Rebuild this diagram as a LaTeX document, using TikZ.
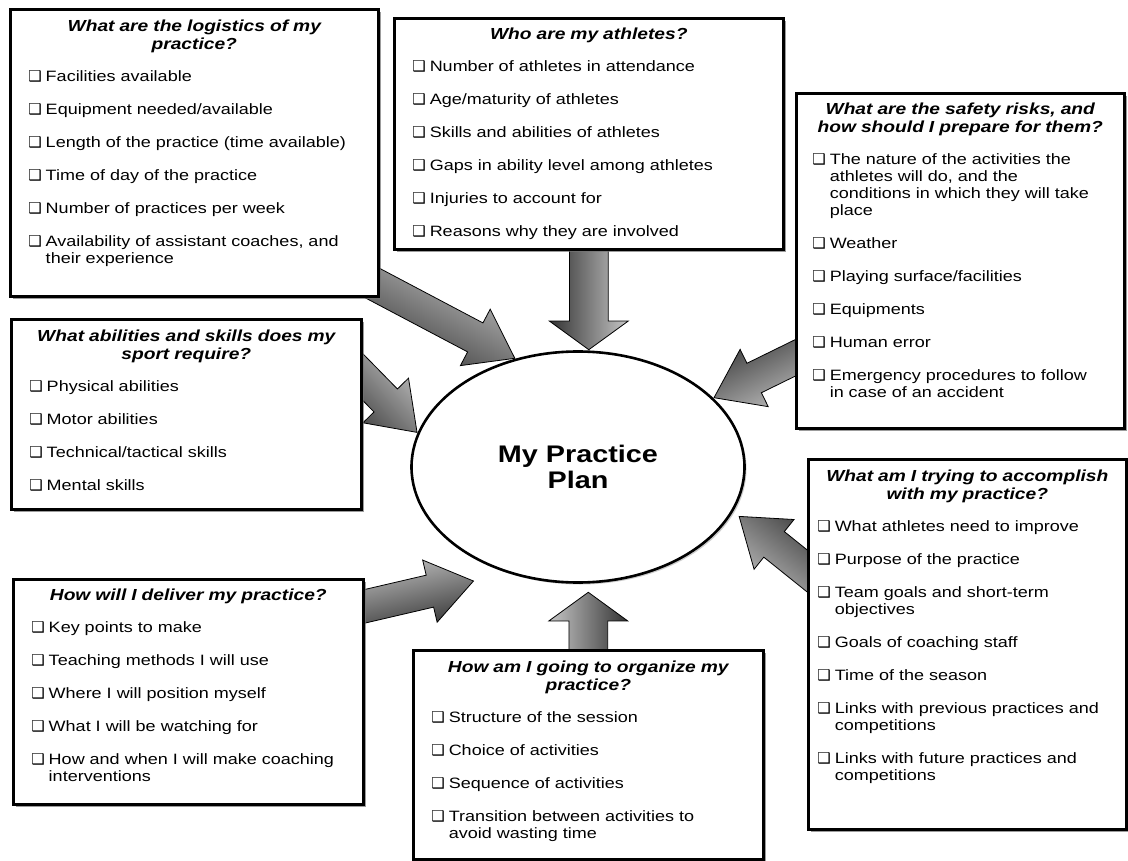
\documentclass[tikz,border=0pt]{standalone}
\usepackage{fontspec}
\setmainfont{Liberation Sans}[FakeStretch=1.2]
\newfontfamily\symfont{DejaVu Sans}
\usetikzlibrary{shapes.arrows,shapes.geometric,shadows,calc,backgrounds}

\newlength{\chkw}
\newcommand{\chk}{{\symfont\fontsize{15}{15}\selectfont ❑}\hspace{4pt}}
\newcommand{\ttl}[1]{{\centering\bfseries\itshape\fontsize{16}{18}\selectfont #1\par}\vspace{15pt}}
\newcommand{\itm}[1]{\settowidth{\chkw}{\chk}\hangindent=\chkw\hangafter=1\noindent\chk#1\par\vspace{16pt}}
\newcommand{\bigarrow}[4]{% style, name, tail, tip
  \path let \p1=($(#4)-(#3)$), \n1={veclen(\x1,\y1)}, \n2={atan2(\y1,\x1)} in
    (#4) node[#1, rotate=\n2, shading angle=\n2, anchor=tip, minimum height=\n1] (#2) {};}

\tikzset{
  card/.style={draw=black, line width=2.6pt, fill=white, anchor=north west, inner sep=0pt,
    drop shadow={shadow xshift=3pt, shadow yshift=-3pt, fill=black!55, opacity=0.7}},
  cardtext/.style={anchor=north, inner sep=0pt, font=\fontsize{15}{17}\selectfont,
    execute at begin node={\raggedright\setlength{\parskip}{0pt}}},
  fatarrow/.style={single arrow, draw=black, line width=0.8pt, left color=gray!45, right color=black!80,
    inner xsep=0pt, inner ysep=16pt, single arrow head extend=15.5pt, single arrow tip angle=71},
  widearrow/.style={fatarrow, inner ysep=19pt, single arrow head extend=20pt, single arrow tip angle=108},
}

\begin{document}
\begin{tikzpicture}[x=1pt, y=-1pt]
  \useasboundingbox (0,0) rectangle (1128,861);

  % centre
  \node[ellipse, draw, line width=2.6pt, fill=white, minimum width=333pt, minimum height=231pt,
    inner sep=0pt, align=center, font=\bfseries\fontsize{24}{26}\selectfont,
    drop shadow={shadow xshift=2pt, shadow yshift=-2pt, fill=black!40, opacity=0.5}] (plan) at (578,467) {My Practice\\Plan};

  % boxes
  \node[card, minimum width=368pt, minimum height=287pt] (log) at (9,8) {};
  \node[cardtext, text width=332pt] (logT) at ([yshift=-12pt]log.north) {%
    \ttl{What are the logistics of my\\practice?}
    \itm{Facilities available}
    \itm{Equipment needed/available}
    \itm{Length of the practice (time available)}
    \itm{Time of day of the practice}
    \itm{Number of practices per week}
    \itm{Availability of assistant coaches, and\newline their experience}};

  \node[card, minimum width=389pt, minimum height=231pt] (ath) at (393,17) {};
  \node[cardtext, text width=353pt] (athT) at ([yshift=-11pt]ath.north) {%
    \ttl{Who are my athletes?}
    \itm{Number of athletes in attendance}
    \itm{Age/maturity of athletes}
    \itm{Skills and abilities of athletes}
    \itm{Gaps in ability level among athletes}
    \itm{Injuries to account for}
    \itm{Reasons why they are involved}};

  \node[card, minimum width=328pt, minimum height=335pt] (safe) at (795,92) {};
  \node[cardtext, text width=296pt] (safeT) at ([yshift=-11pt]safe.north) {%
    \ttl{What are the safety risks, and\\how should I prepare for them?}
    \itm{The nature of the activities the\newline athletes will do, and the\newline conditions in which they will take\newline place}
    \itm{Weather}
    \itm{Playing surface/facilities}
    \itm{Equipments}
    \itm{Human error}
    \itm{Emergency procedures to follow\newline in case of an accident}};

  \node[card, minimum width=350pt, minimum height=190pt] (abil) at (10,318) {};
  \node[cardtext, text width=314pt] (abilT) at ([yshift=-12pt]abil.north) {%
    \ttl{What abilities and skills does my\\sport require?}
    \itm{Physical abilities}
    \itm{Motor abilities}
    \itm{Technical/tactical skills}
    \itm{Mental skills}};

  \node[card, minimum width=350pt, minimum height=225pt] (deliv) at (12,578) {};
  \node[cardtext, text width=314pt] (delivT) at ([yshift=-11pt]deliv.north) {%
    \ttl{How will I deliver my practice?}
    \itm{Key points to make}
    \itm{Teaching methods I will use}
    \itm{Where I will position myself}
    \itm{What I will be watching for}
    \itm{How and when I will make coaching\newline interventions}};

  \node[card, minimum width=350pt, minimum height=209pt] (org) at (412,649) {};
  \node[cardtext, text width=314pt] (orgT) at ([yshift=-12pt]org.north) {%
    \ttl{How am I going to organize my\\practice?}
    \itm{Structure of the session}
    \itm{Choice of activities}
    \itm{Sequence of activities}
    \itm{Transition between activities to\newline avoid wasting time}};

  \node[card, minimum width=318pt, minimum height=370pt] (accom) at (807,458) {};
  \node[cardtext, text width=300pt] (accomT) at ([yshift=-12pt]accom.north) {%
    \ttl{What am I trying to accomplish\\with my practice?}
    \itm{What athletes need to improve}
    \itm{Purpose of the practice}
    \itm{Team goals and short-term\newline objectives}
    \itm{Goals of coaching staff}
    \itm{Time of the season}
    \itm{Links with previous practices and\newline competitions}
    \itm{Links with future practices and\newline competitions}};

  % arrows into the plan
  \coordinate (delivTip) at ([shift={(-8,18)}]plan.225);
  \coordinate (orgTip) at ($(org.north |- plan.south)+(0,8)$);
  \coordinate (accomTip) at ([shift={(7,2)}]plan.343);
  \begin{pgfonlayer}{background}
    \fill[white] (0,0) rectangle (1128,861);
    \bigarrow{fatarrow}{logA}{[shift={(-27,-25)}]log.south east}{plan.120}
    \bigarrow{widearrow}{athA}{ath.center}{ath.south |- plan.north}
    \bigarrow{fatarrow}{safeA}{[shift={(35,80)}]safe.west}{plan.27}
    \bigarrow{fatarrow}{abilA}{[shift={(-30,-68)}]abil.east}{plan.168}
    \bigarrow{fatarrow}{delivA}{[shift={(-32,-78)}]deliv.east}{delivTip}
    \bigarrow{widearrow}{orgA}{org.center}{orgTip}
    \bigarrow{fatarrow}{accomA}{[shift={(33,-47)}]accom.west}{accomTip}
  \end{pgfonlayer}
\end{tikzpicture}
\end{document}
